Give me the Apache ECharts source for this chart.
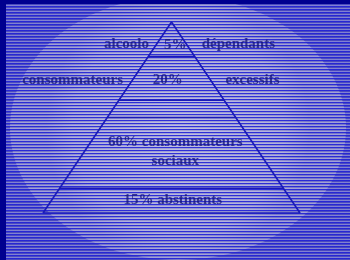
<!DOCTYPE html>
<html style="height: 100%">
<head>
<meta charset="utf-8">
</head>
<body style="height: 100%; margin: 0">
	<div id="container" style="width: 350px; height: 260px"></div>
	<script type="text/javascript" src="https://cdn.jsdelivr.net/npm/echarts@6/dist/echarts.min.js"></script>
	<script type="text/javascript">
		// pyramide : hauteur en % depuis la base (0) jusqu'au sommet (100)
		var levels = [0, 13, 50, 59, 82];
		var apex = [0, 100];
		var baseLeft = [-1, 0];
		var baseRight = [1, 0];

		// textes posés dans la pyramide [x, hauteur]
		var labelText = ['alcoolo', '5%', 'dépendants', 'consommateurs', '20%', 'excessifs',
			'60% consommateurs', 'sociaux', '15% abstinents'];
		var labelX = [-0.35, 0.03, 0.52, -0.77, -0.03, 0.63, 0.03, 0.03, 0.01];
		var labelY = [88.5, 88, 88.5, 69.6, 69.6, 69.6, 37, 27.3, 6.8];

		var dom = document.getElementById("container");
		var myChart = echarts.init(dom);

		// rayures horizontales (effet écran)
		var stripe = document.createElement('canvas');
		stripe.width = 4;
		stripe.height = 3;
		var ctx = stripe.getContext('2d');
		ctx.fillStyle = 'rgba(34,34,215,0.9)';
		ctx.fillRect(0, 0, 4, 1);
		ctx.fillStyle = 'rgba(255,255,255,0.3)';
		ctx.fillRect(0, 2, 4, 1);

		var outline = [baseLeft, apex, baseRight, baseLeft];
		var dividers = [];
		levels.forEach(function (h) {
			if (h === 0) return;
			var w = 1 - h / 100;
			dividers.push({
				type: 'line', silent: true, symbol: 'none', z: 5,
				lineStyle: { color: '#1a1ab8', width: 1.5 },
				data: [[-w, h], [w, h]]
			});
		});

		var labels = labelText.map(function (t, i) {
			return { value: [labelX[i], labelY[i]], name: t };
		});

		var option = {
			animation: false,
			backgroundColor: '#4a4abf',
			graphic: [
				{
					type: 'ellipse', z: -10, silent: true,
					shape: { cx: 178, cy: 128, rx: 168, ry: 132 },
					style: {
						fill: new echarts.graphic.RadialGradient(0.5, 0.5, 0.5, [
							{ offset: 0, color: '#a4a4d8' },
							{ offset: 0.8, color: '#9090d0' },
							{ offset: 1, color: '#7878c8' }
						])
					}
				},
				{
					type: 'rect', z: -5, silent: true,
					shape: { x: 0, y: 0, width: 350, height: 260 },
					style: { fill: { image: stripe, repeat: 'repeat' } }
				},
				{
					type: 'rect', z: 100, silent: true,
					shape: { x: 0, y: 0, width: 350, height: 4 },
					style: { fill: '#00008f' }
				},
				{
					type: 'rect', z: 100, silent: true,
					shape: { x: 0, y: 0, width: 6, height: 260 },
					style: { fill: '#00008f' }
				}
			],
			grid: { left: 43, right: 50, top: 22, bottom: 47 },
			xAxis: { type: 'value', min: -1, max: 1, show: false },
			yAxis: { type: 'value', min: 0, max: 100, show: false },
			series: [
				{
					type: 'line', silent: true, symbol: 'none', z: 5,
					lineStyle: { color: '#1a1ab8', width: 1.6 },
					data: outline
				}
			].concat(dividers).concat([
				{
					type: 'scatter', silent: true, symbolSize: 0, z: 6,
					data: labels,
					label: {
						show: true, position: 'inside',
						formatter: '{b}',
						color: '#16167c',
						fontFamily: 'Liberation Serif',
						fontWeight: 'bold',
						fontSize: 15
					}
				}
			])
		};

		if (option && typeof option === "object") {
			myChart.setOption(option, true);
		}
	</script>
</body>
</html>
